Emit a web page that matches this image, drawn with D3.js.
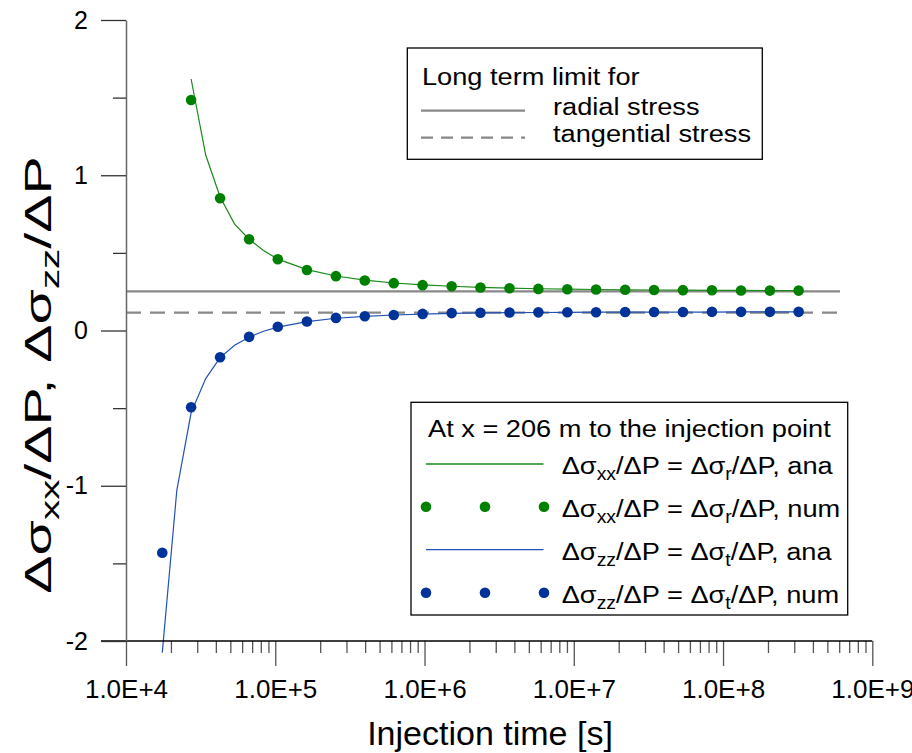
<!DOCTYPE html>
<html><head><meta charset="utf-8">
<script src="https://cdn.jsdelivr.net/npm/d3@7/dist/d3.min.js"></script>
<style>body{margin:0;background:#fff}svg{display:block;font-family:"Liberation Sans",Arial,sans-serif}</style>
</head><body><svg id="c" width="912" height="753"></svg>
<script>
// ---- data ----
const decadeTicks = [1e4, 1e5, 1e6, 1e7, 1e8, 1e9];
const yMajorTicks = [-2, -1, 0, 1, 2];
const yMinorTicks = [-1.5, -0.5, 0.5, 1.5];
const numTimes = [17500, 27300, 42700, 66800, 104000, 163000, 255000, 398000, 622000, 971000,
  1520000, 2370000, 3710000, 5790000, 9050000, 14100000, 22100000, 34500000, 53900000,
  84300000, 132000000, 206000000, 321000000];
const greenNum = [null, 1.485, 0.852, 0.588, 0.459, 0.390, 0.350, 0.322, 0.305, 0.292, 0.285,
  0.277, 0.272, 0.268, 0.266, 0.264, 0.262, 0.261, 0.260, 0.259, 0.258, 0.257, 0.257];
const blueNum = [-1.432, -0.494, -0.172, -0.041, 0.024, 0.058, 0.081, 0.092, 0.100, 0.107, 0.112,
  0.114, 0.116, 0.117, 0.118, 0.118, 0.119, 0.119, 0.119, 0.120, 0.120, 0.120, 0.120];
const anaTimes = [17500, 21900, 27300, 34200, 42700, 53400, 66800, 83400, 104000, 163000, 255000,
  398000, 622000, 971000, 1520000, 2370000, 3710000, 5790000, 9050000, 14100000, 22100000,
  34500000, 53900000, 84300000, 132000000, 206000000, 321000000];
const greenAna = [null, null, 1.62, 1.13, 0.86, 0.685, 0.588, 0.515, 0.46, 0.392, 0.351, 0.324,
  0.306, 0.294, 0.285, 0.278, 0.273, 0.269, 0.266, 0.264, 0.262, 0.261, 0.260, 0.259, 0.258, 0.257, 0.257];
const blueAna = [-2.075, -1.03, -0.53, -0.31, -0.175, -0.095, -0.043, -0.005, 0.022, 0.057, 0.079,
  0.091, 0.100, 0.106, 0.110, 0.113, 0.115, 0.116, 0.117, 0.118, 0.118, 0.119, 0.119, 0.119, 0.120, 0.120, 0.120];
const limitTimes = [1e4, 6.08e8];
const radialLimit = 0.252;
const tangentialLimit = 0.115;

// ---- style ----
const GREEN_PT = "#008000", GREEN_LN = "#1a8a1a", BLUE_PT = "#003399", BLUE_LN = "#2352b8", GRAY = "#888888";
const SX = 1.11; // horizontal text stretch seen in the legends

const svg = d3.select("#c");
const x = d3.scaleLog().domain([1e4, 1e9]).range([126, 872.3]);
const y = d3.scaleLinear().domain([-2, 2]).range([641, 20]);

// long-term limit lines
svg.append("line").attr("x1", x(limitTimes[0])).attr("x2", x(limitTimes[1]))
  .attr("y1", y(radialLimit)).attr("y2", y(radialLimit))
  .attr("stroke", GRAY).attr("stroke-width", 2.2);
svg.append("line").attr("x1", x(limitTimes[0])).attr("x2", x(limitTimes[1]))
  .attr("y1", y(tangentialLimit)).attr("y2", y(tangentialLimit))
  .attr("stroke", GRAY).attr("stroke-width", 2.2).attr("stroke-dasharray", "15,9");

// analytical lines
const lineGen = vals => d3.line().defined((d, i) => vals[i] !== null)
  .x((d, i) => x(anaTimes[i])).y((d, i) => y(vals[i]));
svg.append("path").attr("d", lineGen(greenAna)(greenAna)).attr("fill", "none")
  .attr("stroke", GREEN_LN).attr("stroke-width", 1.2);
svg.append("path").attr("d", lineGen(blueAna)(blueAna)).attr("fill", "none")
  .attr("stroke", BLUE_LN).attr("stroke-width", 1.2);

// numerical points
svg.append("g").selectAll("circle").data(numTimes.map((t, i) => [t, greenNum[i]]).filter(d => d[1] !== null))
  .join("circle").attr("cx", d => x(d[0])).attr("cy", d => y(d[1])).attr("r", 5.3).attr("fill", GREEN_PT);
svg.append("g").selectAll("circle").data(numTimes.map((t, i) => [t, blueNum[i]]))
  .join("circle").attr("cx", d => x(d[0])).attr("cy", d => y(d[1])).attr("r", 5.3).attr("fill", BLUE_PT);

// axes
const minorX = [];
decadeTicks.slice(0, -1).forEach(d => { for (let m = 2; m <= 9; m++) minorX.push(d * m); });
const gx = svg.append("g").attr("transform", "translate(0,641)");
gx.call(d3.axisBottom(x).tickValues(decadeTicks).tickSize(25).tickSizeOuter(0).tickPadding(14)
  .tickFormat(d => "1.0E+" + Math.round(Math.log10(d))));
gx.select(".domain").remove();
gx.selectAll(".tick line").attr("stroke", "#555").attr("stroke-width", 1.3);
gx.selectAll("text").attr("font-size", 26).attr("font-family", "Liberation Sans, Arial").attr("fill", "#000");
const gxm = svg.append("g").attr("transform", "translate(0,641)");
gxm.call(d3.axisBottom(x).tickValues(minorX).tickSize(12).tickFormat(""));
gxm.select(".domain").remove();
gxm.selectAll(".tick line").attr("stroke", "#555").attr("stroke-width", 1.3);
svg.append("line").attr("x1", 101).attr("x2", x(1e9)).attr("y1", 641).attr("y2", 641)
  .attr("stroke", "#000").attr("stroke-width", 1.3);

const gy = svg.append("g").attr("transform", "translate(126,0)");
gy.call(d3.axisLeft(y).tickValues(yMajorTicks).tickSize(25).tickSizeOuter(0).tickPadding(13).tickFormat(d => String(d)));
gy.select(".domain").attr("stroke", "#666").attr("stroke-width", 1.5);
gy.selectAll(".tick line").attr("stroke", "#333").attr("stroke-width", 1.3);
gy.selectAll("text").attr("font-size", 25).attr("font-family", "Liberation Sans, Arial").attr("fill", "#000");
const gym = svg.append("g").attr("transform", "translate(126,0)");
gym.call(d3.axisLeft(y).tickValues(yMinorTicks).tickSize(13).tickFormat(""));
gym.select(".domain").remove();
gym.selectAll(".tick line").attr("stroke", "#333").attr("stroke-width", 1.3);

// helper for stretched text
function stext(xp, yp, size, anchor) {
  return svg.append("text").attr("transform", `translate(${xp},${yp}) scale(${SX},1)`)
    .attr("font-size", size).attr("text-anchor", anchor || "start");
}
function addSub(t, parts, subSize, shift) {
  let down = false;
  parts.forEach(([s, sub]) => {
    const ts = t.append("tspan").text(s);
    if (sub && !down) { ts.attr("dy", shift).attr("font-size", subSize); down = true; }
    else if (!sub && down) { ts.attr("dy", -shift); down = false; }
  });
}

// axis titles
svg.append("text").attr("x", 490).attr("y", 745).attr("text-anchor", "middle")
  .attr("font-size", 34).text("Injection time [s]");
const yt = svg.append("text").attr("transform", "translate(51,375) rotate(-90) scale(1.55,1)")
  .attr("text-anchor", "middle").attr("font-size", 37);
addSub(yt, [["Δσ", 0], ["xx", 1], ["/ΔP, Δσ", 0], ["zz", 1], ["/ΔP", 0]], 26, 8);

// legend 1
svg.append("rect").attr("x", 407.3).attr("y", 48).attr("width", 355).attr("height", 111.3)
  .attr("fill", "#fff").attr("stroke", "#000").attr("stroke-width", 1.3);
stext(422, 85, 24.5).text("Long term limit for");
svg.append("line").attr("x1", 421).attr("x2", 525).attr("y1", 110.7).attr("y2", 110.7)
  .attr("stroke", GRAY).attr("stroke-width", 2.2);
svg.append("line").attr("x1", 421).attr("x2", 525).attr("y1", 137.7).attr("y2", 137.7)
  .attr("stroke", GRAY).attr("stroke-width", 2.2).attr("stroke-dasharray", "12,8");
stext(553, 115, 24.5).text("radial stress");
stext(553, 142, 24.5).text("tangential stress");

// legend 2
svg.append("rect").attr("x", 411).attr("y", 402.3).attr("width", 436.7).attr("height", 212.7)
  .attr("fill", "#fff").attr("stroke", "#000").attr("stroke-width", 1.3);
stext(428, 437, 24.5).text("At x = 206 m to the injection point");
const legRows = [
  {type: "line", color: GREEN_LN, y: 464, sub1: "xx", sub2: "r", tail: ", ana"},
  {type: "pts", color: GREEN_PT, y: 506.7, sub1: "xx", sub2: "r", tail: ", num"},
  {type: "line", color: BLUE_LN, y: 549.7, sub1: "zz", sub2: "t", tail: ", ana"},
  {type: "pts", color: BLUE_PT, y: 592.7, sub1: "zz", sub2: "t", tail: ", num"}
];
legRows.forEach(r => {
  if (r.type === "line") {
    svg.append("line").attr("x1", 426).attr("x2", 543.5).attr("y1", r.y).attr("y2", r.y)
      .attr("stroke", r.color).attr("stroke-width", 1.3);
  } else {
    [426, 485, 544].forEach(cx => svg.append("circle").attr("cx", cx).attr("cy", r.y).attr("r", 5.3).attr("fill", r.color));
  }
  const t = stext(561.7, r.y + 10, 24.5);
  addSub(t, [["Δσ", 0], [r.sub1, 1], ["/ΔP = Δσ", 0], [r.sub2, 1], ["/ΔP" + r.tail, 0]], 17.5, 6);
});
</script></body></html>
